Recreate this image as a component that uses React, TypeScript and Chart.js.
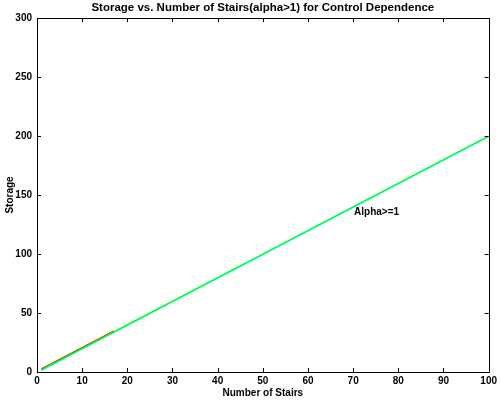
import React, { useEffect, useRef } from "react";
import { Chart, registerables } from "chart.js";

Chart.register(...registerables);

const TITLE = "Storage vs. Number of Stairs(alpha>1) for Control Dependence";
const X_LABEL = "Number of Stairs";
const Y_LABEL = "Storage";

const greenX = [1, 17, 45, 100];
const greenY = [2, 34, 90, 200];
const cyanX = [1, 17, 45, 100];
const cyanY = [1.4, 33.4, 89.4, 199.4];
const redX = [1, 17];
const redY = [2.7, 34.7];
const blueX = [1, 2];
const blueY = [1.8, 3.8];

const annoText = "Alpha>=1";
const annoX = 70.2;
const annoY = 135;

const FONT = "'Liberation Sans', Arial, Helvetica, sans-serif";

const toPts = (xs: number[], ys: number[]) => xs.map((x, i) => ({ x, y: ys[i] }));

const framePlugin = {
  id: "frame",
  afterDraw(chart: any) {
    const { ctx, chartArea: a, scales } = chart;
    const xs = scales.x;
    const ys = scales.y;
    ctx.save();
    ctx.strokeStyle = "#000";
    ctx.lineWidth = 1;
    ctx.beginPath();
    ctx.rect(Math.round(a.left) + 0.5, Math.round(a.top) + 0.5, Math.round(a.right - a.left), Math.round(a.bottom - a.top));
    const L = 4;
    xs.ticks.forEach((t: any) => {
      const px = Math.round(xs.getPixelForValue(t.value)) + 0.5;
      ctx.moveTo(px, a.bottom);
      ctx.lineTo(px, a.bottom - L);
      ctx.moveTo(px, a.top);
      ctx.lineTo(px, a.top + L);
    });
    ys.ticks.forEach((t: any) => {
      const py = Math.round(ys.getPixelForValue(t.value)) + 0.5;
      ctx.moveTo(a.left, py);
      ctx.lineTo(a.left + L, py);
      ctx.moveTo(a.right, py);
      ctx.lineTo(a.right - L, py);
    });
    ctx.stroke();
    ctx.fillStyle = "#000";
    ctx.font = `bold 10px ${FONT}`;
    ctx.textAlign = "left";
    ctx.textBaseline = "middle";
    ctx.fillText(annoText, xs.getPixelForValue(annoX), ys.getPixelForValue(annoY));
    ctx.font = `bold 11.5px ${FONT}`;
    ctx.textAlign = "center";
    ctx.fillText(TITLE, (a.left + a.right) / 2, 8);
    ctx.restore();
  },
};

export default function App() {
  const ref = useRef<HTMLCanvasElement | null>(null);
  useEffect(() => {
    document.body.style.margin = "0";
    const canvas = ref.current!;
    const tickFont = { family: FONT, size: 10, weight: "bold" as const };
    const chart = new Chart(canvas, {
      type: "line",
      data: {
        datasets: [
          { data: toPts(greenX, greenY), borderColor: "#00ff00", borderWidth: 1.2, pointRadius: 0, order: 0 },
          { data: toPts(redX, redY), borderColor: "#ff0000", borderWidth: 1.2, pointRadius: 0, order: 1 },
          { data: toPts(cyanX, cyanY), borderColor: "#00ffff", borderWidth: 1.2, pointRadius: 0, order: 2 },
          { data: toPts(blueX, blueY), borderColor: "#0000ff", borderWidth: 1.2, pointRadius: 0, order: 3 },
        ],
      },
      options: {
        responsive: false,
        animation: false,
        layout: { padding: { right: 10, left: 0, top: 18, bottom: 0 } },
        plugins: {
          legend: { display: false },
          tooltip: { enabled: false },
          title: { display: false },
        },
        scales: {
          x: {
            type: "linear",
            min: 0,
            max: 100,
            grid: { display: false, drawTicks: false, tickLength: 0 },
            border: { display: false },
            ticks: { stepSize: 10, color: "#000", font: tickFont, padding: 3, maxRotation: 0 },
            title: { display: true, text: X_LABEL, color: "#000", font: tickFont, padding: { top: 0, bottom: 1 } },
            afterFit: (s: any) => { s.height = 28; },
          },
          y: {
            type: "linear",
            min: 0,
            max: 300,
            grid: { display: false, drawTicks: false, tickLength: 0 },
            border: { display: false },
            ticks: { stepSize: 50, color: "#000", font: tickFont, padding: 5 },
            title: { display: true, text: Y_LABEL, color: "#000", font: tickFont, padding: { top: 4, bottom: 0 } },
            afterFit: (s: any) => { s.width = 37; },
          },
        },
      },
      plugins: [framePlugin],
    });
    return () => chart.destroy();
  }, []);
  return (
    <div style={{ width: 500, height: 400 }}>
      <canvas ref={ref} width={500} height={400} />
    </div>
  );
}
